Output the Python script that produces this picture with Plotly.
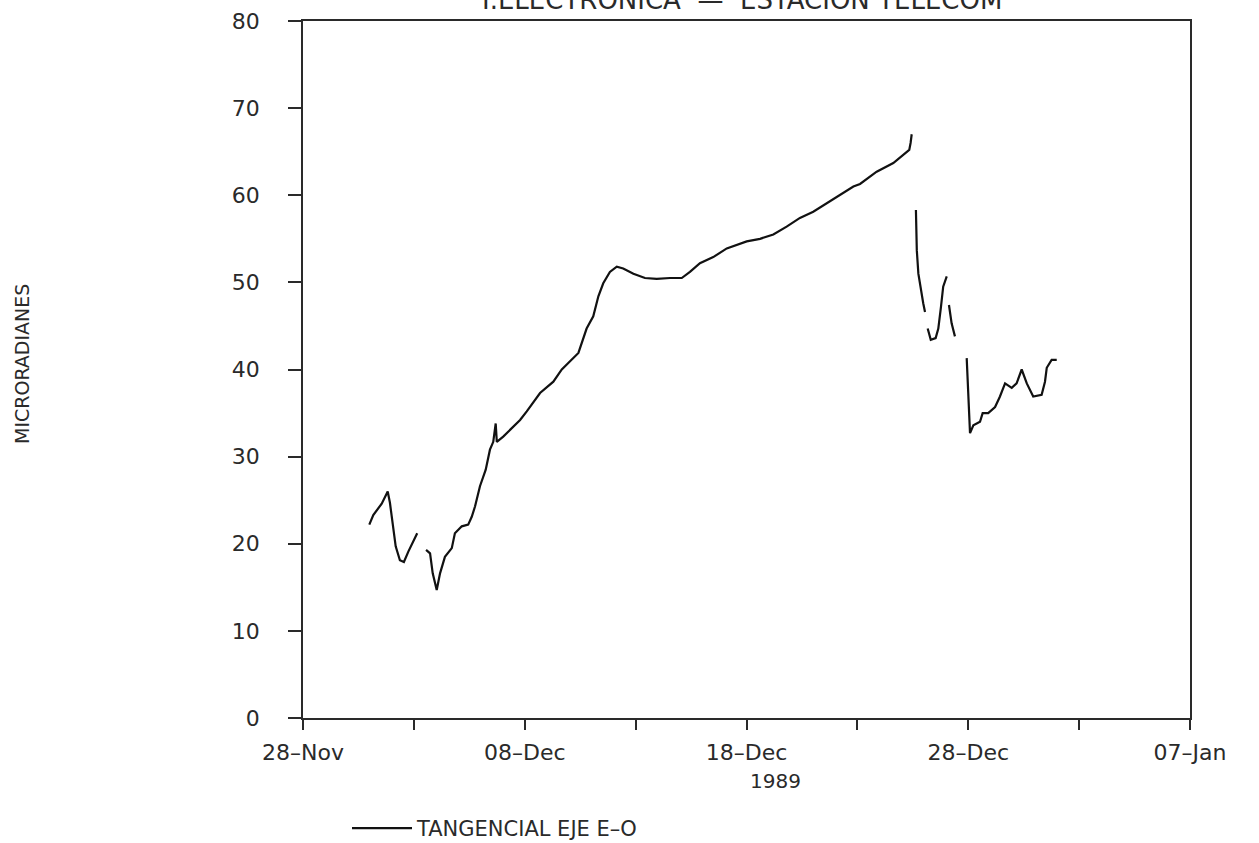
import pandas as pd
import plotly.graph_objects as go

# Tilt record, days elapsed since 28-Nov-1989 (None marks a break in the trace)
days = [
    2.99, 3.17, 3.55, 3.82, 3.92, 4.00, 4.07, 4.18, 4.37, 4.55, 4.75, 4.95, 5.15,
    None,
    5.55, 5.73, 5.85, 6.03, 6.18, 6.40, 6.71, 6.85, 7.16, 7.45, 7.61, 7.76, 7.98,
    8.24, 8.43, 8.58, 8.69, 8.74, 9.03, 9.41, 9.79, 10.09, 10.69, 11.29, 11.67,
    12.42, 12.79, 13.09, 13.32, 13.54, 13.84, 14.15, 14.44, 14.90, 15.42, 15.95,
    16.55, 17.08, 17.45, 17.90, 18.50, 19.11, 19.56, 20.01, 20.61, 21.21, 21.81,
    22.41, 23.01, 23.62, 24.22, 24.82, 25.12, 25.87, 26.62, 27.07, 27.34, 27.40,
    27.45,
    None,
    27.64, 27.68, 27.75, 27.86, 27.97, 28.05,
    None,
    28.17, 28.31, 28.53, 28.65, 28.77, 28.87, 29.03,
    None,
    29.13, 29.25, 29.40,
    None,
    29.93, 30.00, 30.08, 30.23, 30.53, 30.65, 30.90, 31.21, 31.43, 31.66, 31.96,
    32.18, 32.41, 32.64, 32.93, 33.31, 33.46, 33.54, 33.76, 33.99,
]
microradianes = [
    22.2, 23.3, 24.6, 26.0, 24.7, 23.1, 21.6, 19.7, 18.1, 17.9, 19.1, 20.2, 21.2,
    None,
    19.3, 18.9, 16.6, 14.7, 16.6, 18.5, 19.5, 21.2, 22.0, 22.2, 23.1, 24.3, 26.6,
    28.5, 30.8, 31.7, 33.8, 31.7, 32.3, 33.3, 34.2, 35.2, 37.3, 38.6, 40.0,
    41.9, 44.7, 46.1, 48.4, 49.9, 51.2, 51.8, 51.6, 51.0, 50.5, 50.4,
    50.5, 50.5, 51.2, 52.2, 52.9, 53.9, 54.3, 54.7, 55.0, 55.5, 56.4,
    57.4, 58.1, 59.1, 60.0, 61.0, 61.3, 62.7, 63.7, 64.6, 65.2, 66.0,
    67.0,
    None,
    58.3, 53.7, 51.0, 49.1, 47.6, 46.6,
    None,
    44.7, 43.4, 43.6, 44.7, 47.2, 49.5, 50.7,
    None,
    47.4, 45.3, 43.8,
    None,
    41.3, 36.9, 32.7, 33.6, 34.0, 35.0, 35.0, 35.7, 36.9, 38.4, 37.9,
    38.4, 40.0, 38.4, 36.9, 37.1, 38.6, 40.2, 41.1, 41.1,
]

# Axis ticks: a mark every 5 days, labelled every 10 days
tick_dates = ["1989-11-28", "1989-12-03", "1989-12-08", "1989-12-13", "1989-12-18",
              "1989-12-23", "1989-12-28", "1990-01-02", "1990-01-07"]
tick_labels = ["28–Nov", "", "08–Dec", "", "18–Dec", "", "28–Dec", "", "07–Jan"]
y_ticks = [0, 10, 20, 30, 40, 50, 60, 70, 80]

start = pd.Timestamp("1989-11-28")
times = [None if d is None else start + pd.Timedelta(days=d) for d in days]

FONT = "DejaVu Sans"
INK = "#2a2a2a"
W, H = 1259, 843
L, R, T, B = 303, 69, 21, 125
PW, PH = W - L - R, H - T - B


def px_x(x):
    return (x - L) / PW


def px_y(y):
    return (H - B - y) / PH


fig = go.Figure()
fig.add_trace(go.Scatter(
    x=times, y=microradianes, mode="lines", name="TANGENCIAL EJE E–O",
    line=dict(color="#111111", width=2.2), connectgaps=False,
))

fig.update_layout(
    width=W, height=H,
    margin=dict(l=L, r=R, t=T, b=B, autoexpand=False),
    paper_bgcolor="white", plot_bgcolor="white",
    font=dict(family=FONT, size=20, color=INK),
    showlegend=True,
    legend=dict(x=px_x(347), y=px_y(808), xanchor="left", yanchor="top",
                font=dict(family=FONT, size=21, color=INK),
                bgcolor="rgba(0,0,0,0)", itemwidth=60),
    xaxis=dict(
        type="date", range=["1989-11-28", "1990-01-07"],
        tickvals=tick_dates, ticktext=tick_labels,
        ticks="outside", ticklen=10, tickwidth=1.5, tickcolor=INK,
        showline=True, linecolor=INK, linewidth=1.5, mirror=True,
        showgrid=False, zeroline=False, ticklabelstandoff=4,
        tickfont=dict(family=FONT, size=22, color=INK),
    ),
    yaxis=dict(
        range=[0, 80], tickvals=y_ticks,
        ticks="outside", ticklen=13, tickwidth=1.5, tickcolor=INK,
        showline=True, linecolor=INK, linewidth=1.5, mirror=True,
        showgrid=False, zeroline=False, ticklabelstandoff=24,
        tickfont=dict(family=FONT, size=22, color=INK),
    ),
)

# Header line, sitting at the very top edge of the sheet
fig.add_annotation(
    text="I.ELECTRONICA  —  ESTACION TELECOM", xref="paper", yref="paper",
    x=px_x(742), y=px_y(-0.5), xanchor="center", yanchor="middle",
    showarrow=False, font=dict(family=FONT, size=26, color=INK),
)
# Axis captions
fig.add_annotation(
    text="1989", xref="paper", yref="paper", x=px_x(775), y=px_y(781),
    xanchor="center", yanchor="middle", showarrow=False,
    font=dict(family=FONT, size=20, color=INK),
)
fig.add_annotation(
    text="MICRORADIANES", xref="paper", yref="paper", x=px_x(22),
    y=px_y(364), xanchor="center", yanchor="middle", textangle=-90,
    showarrow=False, font=dict(family=FONT, size=19, color=INK),
)

fig.write_html("out.html")
